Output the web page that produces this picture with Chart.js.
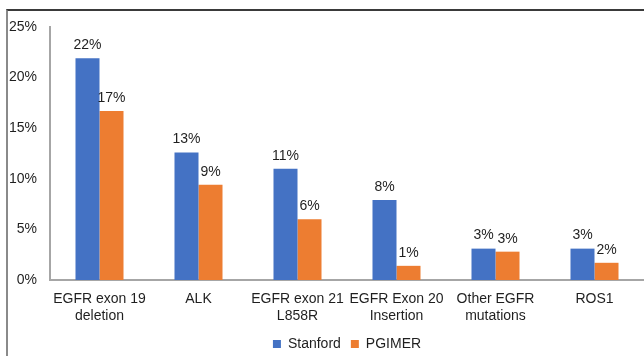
<!DOCTYPE html>
<html>
<head>
<meta charset="utf-8">
<script src="https://cdn.jsdelivr.net/npm/chart.js@4"></script>
<style>
  html, body { margin: 0; padding: 0; background: #fff; }
  #wrap { position: relative; width: 644px; height: 356px; overflow: hidden; }
  #frame { position: absolute; left: 6px; top: 9px; width: 700px; height: 400px;
           border-left: 2px solid #8a8a8a; border-top: 2px solid #3a3a3a; box-sizing: border-box; }
  #c { position: absolute; left: 0; top: 0; }
</style>
</head>
<body>
<div id="wrap">
  <div id="frame"></div>
  <canvas id="c" width="644" height="356"></canvas>
</div>
<script>
const categories = [
  ['EGFR exon 19', 'deletion'],
  'ALK',
  ['EGFR exon 21', 'L858R'],
  ['EGFR Exon 20', 'Insertion'],
  ['Other EGFR', 'mutations'],
  'ROS1'
];
const stanford = [21.9, 12.6, 11.0, 7.9, 3.1, 3.1];
const pgimer = [16.7, 9.4, 6.0, 1.4, 2.8, 1.7];
const yTicks = [0, 5, 10, 15, 20, 25];

const textColor = '#1f1f1f';
const font = { family: '"Liberation Sans", Arial, sans-serif', size: 14 };

// Percentage label above each bar
const barLabels = {
  id: 'barLabels',
  afterDatasetsDraw(chart) {
    const ctx = chart.ctx;
    ctx.save();
    ctx.font = `${font.size}px ${font.family}`;
    ctx.fillStyle = textColor;
    ctx.textAlign = 'center';
    ctx.textBaseline = 'bottom';
    chart.data.datasets.forEach((ds, i) => {
      chart.getDatasetMeta(i).data.forEach((bar, j) => {
        ctx.fillText(Math.round(ds.data[j]) + '%', bar.x, bar.y - 6);
      });
    });
    ctx.restore();
  }
};

new Chart(document.getElementById('c'), {
  type: 'bar',
  data: {
    labels: categories,
    datasets: [
      { label: 'Stanford', data: stanford, backgroundColor: '#4472C4' },
      { label: 'PGIMER', data: pgimer, backgroundColor: '#ED7D31' }
    ]
  },
  options: {
    responsive: false,
    animation: false,
    devicePixelRatio: 1,
    layout: { padding: { top: 27, right: 0, left: 0, bottom: -5 } },
    datasets: { bar: { categoryPercentage: 0.485, barPercentage: 1.0 } },
    scales: {
      x: {
        grid: { display: false },
        border: { display: true, color: '#a6a6a6', width: 2 },
        ticks: { color: textColor, font, maxRotation: 0, autoSkip: false, padding: 3 },
        afterFit(scale) { scale.height = 47; }
      },
      y: {
        min: 0, max: 25,
        afterBuildTicks(scale) { scale.ticks = yTicks.map(v => ({ value: v })); },
        grid: { display: false },
        border: { display: true, color: '#a6a6a6', width: 2 },
        ticks: { color: textColor, font, padding: 5, callback: v => v + '%' },
        afterFit(scale) { scale.width = 50; }
      }
    },
    plugins: {
      legend: {
        position: 'bottom',
        fullSize: false,
        labels: { color: textColor, font, boxWidth: 8, boxHeight: 8, padding: 10 }
      },
      tooltip: { enabled: false }
    }
  },
  plugins: [barLabels]
});
</script>
</body>
</html>
